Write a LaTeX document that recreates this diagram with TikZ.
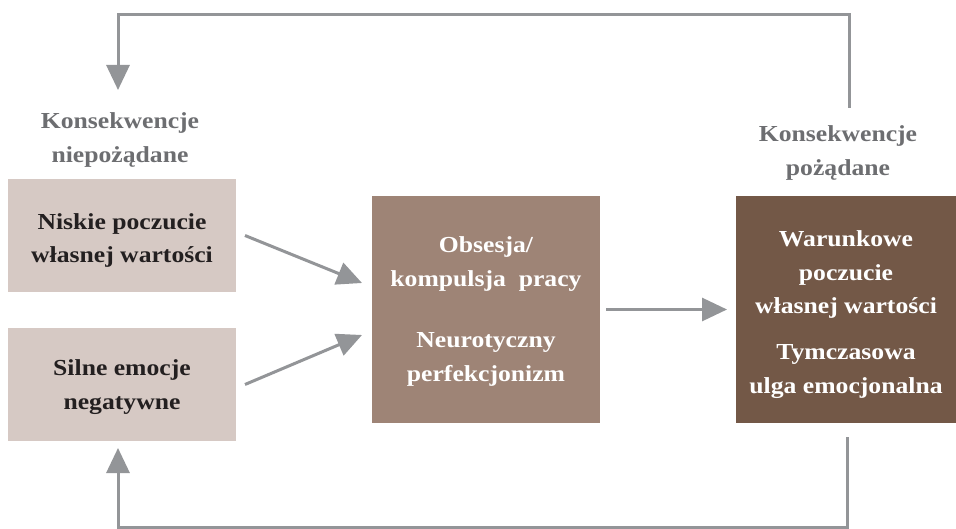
\documentclass[tikz,border=0pt]{standalone}
\usepackage{fontspec}
\setmainfont{Liberation Serif}[FakeStretch=1.12]
\usetikzlibrary{arrows.meta}

\definecolor{boxlight}{HTML}{D6C9C4}
\definecolor{boxmid}{HTML}{9E8476}
\definecolor{boxdark}{HTML}{735847}
\definecolor{linegray}{HTML}{939598}
\definecolor{labelgray}{HTML}{6D6E71}
\definecolor{textdark}{HTML}{231F20}

\tikzset{
  panel/.style={inner sep=0pt, outer sep=0pt},
  lightbox/.style={panel, fill=boxlight, minimum width=228bp, minimum height=113bp},
  midbox/.style={panel, fill=boxmid, minimum width=228bp, minimum height=227bp},
  darkbox/.style={panel, fill=boxdark, minimum width=220bp, minimum height=227bp},
  boxtext/.style={font=\fontsize{23}{34}\selectfont\bfseries, align=center, inner sep=0pt},
  darktext/.style={boxtext, text=textdark},
  lighttext/.style={boxtext, text=white},
  sidelabel/.style={font=\fontsize{23}{35}\selectfont\bfseries, align=center, text=labelgray, inner sep=0pt},
  flow/.style={draw=linegray, line width=3bp, -{Triangle[length=25bp,width=23bp]}},
  feedback/.style={flow, line join=miter}
}

\begin{document}
\begin{tikzpicture}[x=1bp, y=-1bp]
  \fill[white] (0,0) rectangle (956,529);
  \useasboundingbox (0,0) rectangle (956,529);

  % coloured panels
  \node[lightbox] (low) at (122,235.5) {};
  \node[lightbox] (emo) at (122,384.5) {};
  \node[midbox]   (obs) at (486,309.5) {};
  \node[darkbox]  (war) at (846,309.5) {};

  % panel texts
  \node[darktext]  (lowtxt) at ([yshift=-5bp]low.center) {Niskie poczucie\\własnej wartości};
  \node[darktext]  (emotxt) at ([yshift=-3bp]emo.center) {Silne emocje\\negatywne};
  \node[lighttext] (obstxt) at ([yshift=-2bp]obs.center) {Obsesja/\\kompulsja\ \ pracy\\[28bp]Neurotyczny\\perfekcjonizm};
  \node[lighttext] (wartxt) at ([yshift=-5bp]war.center) {Warunkowe\\poczucie\\własnej wartości\\[12bp]Tymczasowa\\ulga emocjonalna};

  % consequence labels
  \node[sidelabel] (neg) at (120,140) {Konsekwencje\\niepożądane};
  \node[sidelabel] (pos) at (838,153) {Konsekwencje\\pożądane};

  % forward arrows
  \draw[flow] ([xshift=9bp]low.east) -- ([xshift=-10bp,yshift=26.5bp]obs.west);
  \draw[flow] ([xshift=9bp]emo.east) -- ([xshift=-10bp,yshift=-25.5bp]obs.west);
  \draw[flow] ([xshift=6bp]obs.east) -- ([xshift=-9bp]war.west);

  % feedback loops
  \coordinate (topstart) at (849,108);
  \coordinate (topright) at (849,15);
  \coordinate (topleft)  at (118,15);
  \coordinate (topend)   at (118,90);
  \draw[feedback] (topstart) -- (topright) -- (topleft) -- (topend);

  \coordinate (botstart) at (847,437);
  \coordinate (botright) at (847,527);
  \coordinate (botleft)  at (118,527);
  \coordinate (botend)   at (118,448);
  \draw[feedback] (botstart) -- (botright) -- (botleft) -- (botend);
\end{tikzpicture}
\end{document}
